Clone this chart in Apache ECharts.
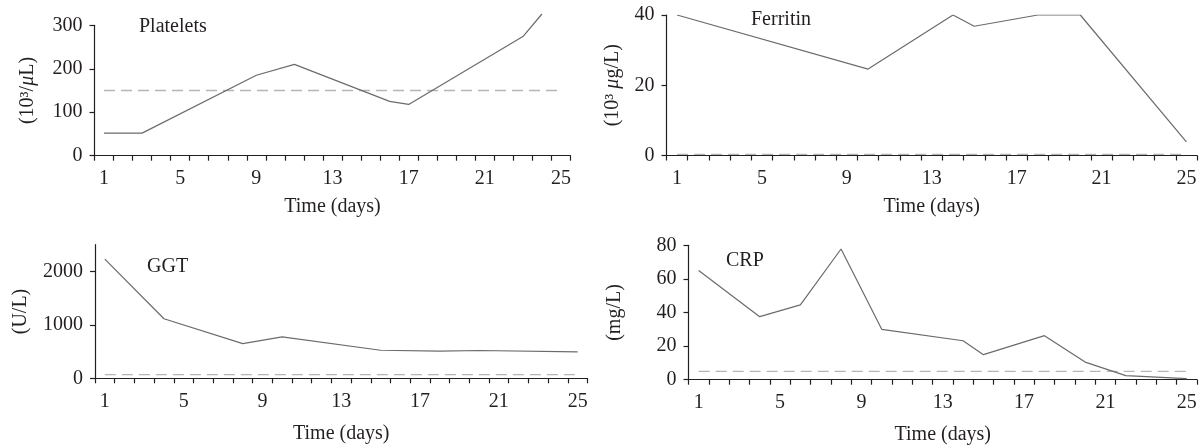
<!DOCTYPE html>
<html><head><meta charset="utf-8">
<script src="https://cdn.jsdelivr.net/npm/echarts@6/dist/echarts.min.js"></script>
<style>html,body{margin:0;padding:0;background:#fff}#c{width:1201px;height:447px}</style>
</head><body><div id="c"></div>
<script>
// ---- data ----
const dayCategories = ['1','2','3','4','5','6','7','8','9','10','11','12','13','14','15','16','17','18','19','20','21','22','23','24','25'];

const plateletDays   = [1, 3, 9, 11, 16, 17, 23, 24];
const plateletValues = [52, 52, 185, 210, 125, 118, 274, 326];
const plateletRef    = 150;
const plateletTicks  = [0, 100, 200, 300];

const ferritinDays   = [1, 10, 14, 15, 18, 20, 25];
const ferritinValues = [40, 24.6, 40, 36.8, 40, 40, 3.9];
const ferritinRef    = 0.3;
const ferritinTicks  = [0, 20, 40];

const ggtDays   = [1, 4, 8, 10, 15, 18, 20, 25];
const ggtValues = [2230, 1115, 650, 775, 525, 510, 520, 495];
const ggtRef    = 67;
const ggtTicks  = [0, 1000, 2000];

const crpDays   = [1, 4, 6, 8, 10, 14, 15, 18, 20, 22, 25];
const crpValues = [65, 37.5, 44.5, 77.8, 30, 23.2, 14.9, 26.2, 10.5, 2.4, 0.6];
const crpRef    = 5;
const crpTicks  = [0, 20, 40, 60, 80];

// ---- styling / layout ----
const FONT = "'Liberation Serif', 'DejaVu Serif', serif";
const TXT = '#231f20';
const AXIS = '#231f20';
const LINE = '#6a6b6e';
const DASH = '#b5b5b5';

const panels = [
  { title: 'Platelets', tl: 139, tt: 17, yName: '(10³/{i|μ}L)', days: plateletDays, vals: plateletValues, ref: plateletRef,
    ticks: plateletTicks, min: 0, max: 300, grid: {left: 94.5, top: 25.3, width: 476, height: 130.4}, xGap: 41, yGap: 57, clip: false },
  { title: 'Ferritin', tl: 751, tt: 10, yName: '(10³ {i|μ}g/L)', days: ferritinDays, vals: ferritinValues, ref: ferritinRef,
    ticks: ferritinTicks, min: 0, max: 40, grid: {left: 666.5, top: 15, width: 530.5, height: 140.5}, xGap: 41, yGap: 44, clip: true },
  { title: 'GGT', tl: 147, tt: 257, yName: '(U/L)', days: ggtDays, vals: ggtValues, ref: ggtRef,
    ticks: ggtTicks, min: 0, max: 2500, grid: {left: 95, top: 244.7, width: 492.5, height: 133.6}, xGap: 45, yGap: 64, clip: true },
  { title: 'CRP', tl: 726, tt: 251, yName: '(mg/L)', days: crpDays, vals: crpValues, ref: crpRef,
    ticks: crpTicks, min: 0, max: 80, grid: {left: 688.5, top: 245.3, width: 508.5, height: 134.4}, xGap: 45, yGap: 64, clip: true }
];

const option = {
  animation: false,
  backgroundColor: '#fff',
  title: [], grid: [], xAxis: [], yAxis: [], series: []
};

panels.forEach((p, i) => {
  option.title.push({ text: p.title, left: p.tl, top: p.tt, padding: 0,
    textStyle: { fontFamily: FONT, fontSize: 20, fontWeight: 'normal', color: TXT } });
  option.grid.push(Object.assign({ containLabel: false }, p.grid));
  option.xAxis.push({
    type: 'category', gridIndex: i, data: dayCategories, boundaryGap: true,
    axisLine: { show: true, lineStyle: { color: AXIS, width: 1.2 } },
    axisTick: { show: true, interval: 0, length: 5, lineStyle: { color: AXIS, width: 1.2 } },
    axisLabel: { interval: 3, margin: 13, fontFamily: FONT, fontSize: 20, color: TXT },
    splitLine: { show: false },
    name: 'Time (days)', nameLocation: 'middle', nameGap: p.xGap,
    nameTextStyle: { fontFamily: FONT, fontSize: 20, color: TXT }
  });
  option.yAxis.push({
    type: 'value', gridIndex: i, min: p.min, max: p.max,
    axisLine: { show: true, onZero: false, lineStyle: { color: AXIS, width: 1.2 } },
    axisTick: { show: true, length: 5, customValues: p.ticks, lineStyle: { color: AXIS, width: 1.2 } },
    axisLabel: { margin: 12, customValues: p.ticks, formatter: v => String(v),
      fontFamily: FONT, fontSize: 20, color: TXT },
    splitLine: { show: false },
    name: p.yName, nameLocation: 'middle', nameGap: p.yGap, nameRotate: 90,
    nameTextStyle: { fontFamily: FONT, fontSize: 20, color: TXT,
      rich: { i: { fontFamily: FONT, fontSize: 20, fontStyle: 'italic', color: TXT } } }
  });
  option.series.push({
    type: 'line', xAxisIndex: i, yAxisIndex: i, silent: true,
    data: [[dayCategories[0], p.ref], [dayCategories[dayCategories.length - 1], p.ref]],
    showSymbol: false, symbol: 'none',
    lineStyle: { color: DASH, width: 1.3, type: [11, 6] }
  });
  option.series.push({
    type: 'line', xAxisIndex: i, yAxisIndex: i, silent: true, clip: p.clip,
    data: p.days.map((d, k) => [String(d), p.vals[k]]),
    showSymbol: false, symbol: 'none',
    lineStyle: { color: LINE, width: 1.2 }
  });
});

const chart = echarts.init(document.getElementById('c'), null, { renderer: 'canvas' });
chart.setOption(option);
</script>
</body></html>
